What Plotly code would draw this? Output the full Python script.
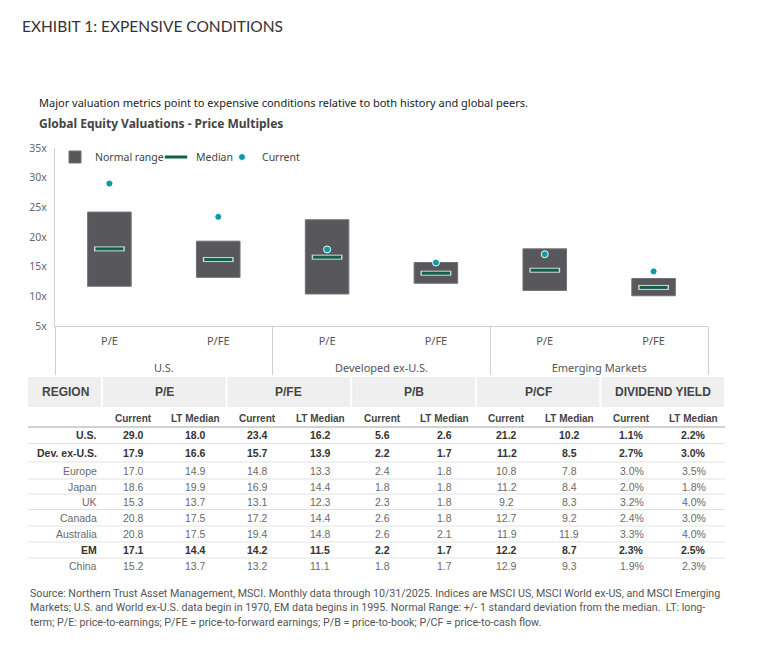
"""Exhibit 1: expensive conditions - valuation ranges plus summary table."""

import plotly.graph_objects as go

# chart data
chart_regions = ["U.S.", "U.S.", "Developed ex-U.S.", "Developed ex-U.S.",
                 "Emerging Markets", "Emerging Markets"]
chart_metrics = ["P/E", "P/FE", "P/E", "P/FE", "P/E", "P/FE"]
range_low = [11.7, 13.2, 10.4, 12.2, 11.0, 10.1]
range_high = [24.2, 19.3, 22.9, 15.7, 18.0, 13.0]
median = [18.0, 16.2, 16.6, 13.9, 14.4, 11.5]
current = [29.0, 23.4, 17.9, 15.7, 17.1, 14.2]
y_ticks = [5, 10, 15, 20, 25, 30, 35]

# table data
table_groups = ["P/E", "P/FE", "P/B", "P/CF", "DIVIDEND YIELD"]
table_sub = ["Current", "LT Median"]
regions = ["U.S.", "Dev. ex-U.S.", "Europe", "Japan", "UK", "Canada",
           "Australia", "EM", "China"]
bold_rows = ["U.S.", "Dev. ex-U.S.", "EM"]
pe_current = [29.0, 17.9, 17.0, 18.6, 15.3, 20.8, 20.8, 17.1, 15.2]
pe_median = [18.0, 16.6, 14.9, 19.9, 13.7, 17.5, 17.5, 14.4, 13.7]
pfe_current = [23.4, 15.7, 14.8, 16.9, 13.1, 17.2, 19.4, 14.2, 13.2]
pfe_median = [16.2, 13.9, 13.3, 14.4, 12.3, 14.4, 14.8, 11.5, 11.1]
pb_current = [5.6, 2.2, 2.4, 1.8, 2.3, 2.6, 2.6, 2.2, 1.8]
pb_median = [2.6, 1.7, 1.8, 1.8, 1.8, 1.8, 2.1, 1.7, 1.7]
pcf_current = [21.2, 11.2, 10.8, 11.2, 9.2, 12.7, 11.9, 12.2, 12.9]
pcf_median = [10.2, 8.5, 7.8, 8.4, 8.3, 9.2, 11.9, 8.7, 9.3]
dy_current = [1.1, 2.7, 3.0, 2.0, 3.2, 2.4, 3.3, 2.3, 1.9]
dy_median = [2.2, 3.0, 3.5, 1.8, 4.0, 3.0, 4.0, 2.5, 2.3]

TITLE = "EXHIBIT 1: EXPENSIVE CONDITIONS"
SUBTITLE = ("Major valuation metrics point to expensive conditions relative "
            "to both history and global peers.")
CHART_TITLE = "Global Equity Valuations - Price Multiples"
SOURCE = [
    "Source: Northern Trust Asset Management, MSCI. Monthly data through 10/31/2025. "
    "Indices are MSCI US, MSCI World ex-US, and MSCI Emerging",
    "Markets; U.S. and World ex-U.S. data begin in 1970, EM data begins in 1995. "
    "Normal Range: +/- 1 standard deviation from the median.  LT: long-",
    "term; P/E: price-to-earnings; P/FE = price-to-forward earnings; "
    "P/B = price-to-book; P/CF = price-to-cash flow.",
]

# page is offset by the 8px body margin
OFF = 8
W, H = 772 - OFF, 655 - OFF
PL, PR, PT, PB = 55, 708, 148, 326  # plot box in page pixels

FONT = "Noto Sans, Arial, sans-serif"
TFONT = "Liberation Sans, Arial, sans-serif"
GRID = "#d0d0d0"


def px(x):
    return (x - PL) / (PR - PL)


def py(y):
    return (PB - y) / (PB - PT)


# leading break pushes the group labels a line lower, like the original
x_cats = [["<br>" + r for r in chart_regions], chart_metrics]

fig = go.Figure()

# normal range bars
fig.add_trace(go.Bar(
    x=x_cats,
    y=[h - l for h, l in zip(range_high, range_low)],
    base=range_low,
    width=0.4,
    name="Normal range",
    legend="legend",
    marker=dict(color="#58585c", line=dict(color="#707074", width=1)),
))

# median dash: light outline underneath, dark green on top
fig.add_trace(go.Scatter(
    x=x_cats, y=median, mode="markers", showlegend=False,
    marker=dict(symbol="line-ew", size=22, line=dict(color="#c9dcd5", width=5)),
))
fig.add_trace(go.Scatter(
    x=x_cats, y=median, mode="markers", name="Median", legend="legend2",
    marker=dict(symbol="line-ew", size=20, line=dict(color="#145f4b", width=3)),
))

# current
fig.add_trace(go.Scatter(
    x=x_cats, y=current, mode="markers", name="Current", legend="legend3",
    marker=dict(color="#0c9ba6", size=7, line=dict(color="white", width=1)),
))

ann = []
shapes = []


def text(x, y, s, size=10.5, color="#444", anchor="left", family=FONT, bold=False):
    if bold:
        s = f"<b>{s}</b>"
    ann.append(dict(
        x=px(x), y=py(y), xref="paper", yref="paper", text=s, showarrow=False,
        xanchor=anchor, yanchor="middle",
        font=dict(size=size, color=color, family=family),
    ))


def hline(x0, x1, y, color, width):
    shapes.append(dict(type="line", xref="paper", yref="paper",
                       x0=px(x0), x1=px(x1), y0=py(y), y1=py(y),
                       line=dict(color=color, width=width)))


def legend_at(text_x):
    # legend text starts 40px right of the legend box edge
    return dict(orientation="h", x=px(text_x - 40), y=py(157), xanchor="left",
                yanchor="middle", font=dict(size=10.5, color="#444"),
                bgcolor="rgba(0,0,0,0)", itemwidth=30)


# headings
text(20, 26, TITLE, size=15.5, color="#333", family="Lato, sans-serif")
text(37, 102, SUBTITLE, size=11, color="#222")
text(37, 124, CHART_TITLE, size=12, color="#444", bold=True)

# table
T_LEFT, T_RIGHT = 28, 725
REG_RIGHT = 102
SUB_W = (T_RIGHT - REG_RIGHT) / 10
cols = [pe_current, pe_median, pfe_current, pfe_median, pb_current, pb_median,
        pcf_current, pcf_median, dy_current, dy_median]
pct_cols = [8, 9]

# header band with white gaps between merged cells
edges = [T_LEFT, REG_RIGHT] + [REG_RIGHT + 2 * SUB_W * (i + 1) for i in range(5)]
for i in range(len(edges) - 1):
    shapes.append(dict(type="rect", xref="paper", yref="paper",
                       x0=px(edges[i] + (1 if i else 0)), x1=px(edges[i + 1] - 1),
                       y0=py(407), y1=py(377), fillcolor="#efefef", line_width=0,
                       layer="below"))
text((T_LEFT + REG_RIGHT) / 2, 392, "REGION", size=12, color="#444",
     anchor="center", family=TFONT, bold=True)
for i, g in enumerate(table_groups):
    text(REG_RIGHT + 2 * SUB_W * i + SUB_W, 392, g, size=12, color="#444",
         anchor="center", family=TFONT, bold=True)
    for j, s in enumerate(table_sub):
        text(REG_RIGHT + SUB_W * (2 * i + j) + SUB_W / 2, 418, s, size=10,
             color="#444", anchor="center", family=TFONT, bold=True)

hline(T_LEFT, T_RIGHT, 427, "#d2d2d2", 2)
row_h = [16.5, 18.5, 17, 15, 15.5, 16.5, 16, 16, 16]
y = 427
for r, name in enumerate(regions):
    yc = y + row_h[r] / 2
    b = name in bold_rows
    c = "#333" if b else "#6a6a6a"
    text(REG_RIGHT - 3, yc, name, size=10.5, color=c, anchor="right",
         family=TFONT, bold=b)
    for k, col in enumerate(cols):
        v = f"{col[r]:.1f}%" if k in pct_cols else f"{col[r]:.1f}"
        text(REG_RIGHT + SUB_W * k + SUB_W / 2, yc, v, size=10.5, color=c,
             anchor="center", family=TFONT, bold=b)
    y += row_h[r]
    if r < len(regions) - 1:
        hline(T_LEFT, T_RIGHT, y, "#e2e2e2", 1)

# footnote
for i, line in enumerate(SOURCE):
    text(28, 593 + 14.5 * i, line, size=10.7, color="#555",
         family="Roboto, sans-serif")

fig.update_layout(
    width=W, height=H,
    margin=dict(l=PL - OFF, r=772 - PR, t=PT - OFF, b=655 - PB),
    paper_bgcolor="white", plot_bgcolor="white",
    font=dict(family=FONT, size=11, color="#555"),
    barmode="overlay",
    showlegend=True,
    legend=legend_at(95),
    legend2=legend_at(196),
    legend3=legend_at(262),
    xaxis=dict(type="multicategory", showline=True, linecolor=GRID, linewidth=1,
               showdividers=True, dividercolor=GRID, dividerwidth=1,
               tickfont=dict(size=11, color="#555"), ticks="", showgrid=False,
               ticklabelstandoff=5),
    yaxis=dict(range=[5, 35], tickvals=y_ticks,
               ticktext=[f"{v}x" for v in y_ticks], showgrid=False,
               zeroline=False, showline=True, linecolor=GRID, linewidth=1,
               tickfont=dict(size=10.5, color="#666"), ticklabelstandoff=5),
    annotations=ann,
    shapes=shapes,
)

fig.write_html("out.html")
